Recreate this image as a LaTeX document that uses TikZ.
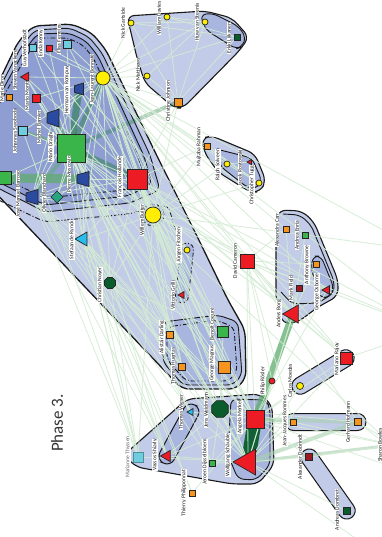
\documentclass[tikz,border=0pt]{standalone}
\usepackage{fontspec}
\setmainfont{Carlito}
\usetikzlibrary{shapes.geometric}
\pgfdeclarelayer{bg}
\pgfdeclarelayer{hulls}
\pgfdeclarelayer{edges}
\pgfsetlayers{bg,hulls,edges,main}
\definecolor{cRed}{RGB}{237,28,36}
\definecolor{cGreen}{RGB}{57,181,74}
\definecolor{cDGreen}{RGB}{10,92,44}
\definecolor{cBlue}{RGB}{42,75,160}
\definecolor{cCyan}{RGB}{110,205,222}
\definecolor{cCyanB}{RGB}{40,190,236}
\definecolor{cTeal}{RGB}{38,165,130}
\definecolor{cYellow}{RGB}{255,238,0}
\definecolor{cOrange}{RGB}{247,148,29}
\definecolor{cDRed}{RGB}{158,24,36}
\definecolor{hLight}{RGB}{194,203,231}
\definecolor{hMid}{RGB}{168,181,222}
\definecolor{hDark}{RGB}{142,158,210}
\definecolor{eGreen}{RGB}{212,236,212}
\definecolor{bGreen}{RGB}{96,172,112}
\definecolor{bDark}{RGB}{34,124,64}
\tikzset{
  nd/.style={draw=black!85, line width=0.7pt, inner sep=0pt, outer sep=0pt},
  sq/.style={nd, rectangle, minimum size=#1},
  cir/.style={nd, circle, minimum size=#1},
  tri/.style={nd, regular polygon, regular polygon sides=3, minimum size=#1, shape border rotate=90},
  oct/.style={nd, regular polygon, regular polygon sides=8, minimum size=#1},
  lab/.style={rotate=90, fill=white, inner sep=0.5pt, font=\fontsize{5.6}{6}\selectfont, text=black!90},
  hull/.style={draw=black!90, line width=1.1pt, rounded corners=7pt},
  ihull/.style={draw=black!90, line width=0.9pt, rounded corners=6pt},
  dhull/.style={draw=black!90, line width=0.9pt, rounded corners=6pt, dash pattern=on 5pt off 2pt on 1pt off 2pt},
  capsule/.style={draw=black!90, line width=1pt, fill=hLight, inner sep=0pt},
  edge/.style={draw=eGreen, line width=0.8pt, opacity=0.9},
  band/.style={line cap=round, opacity=0.75},
}
% name, x, y, vertical size (long side), horizontal size
\newcommand{\trapnode}[5]{%
  \draw[draw=black!85, line width=0.7pt, fill=cBlue] ({#2-#5/2},{#3-#4*0.27}) -- ({#2+#5/2},{#3-#4/2}) -- ({#2+#5/2},{#3+#4/2}) -- ({#2-#5/2},{#3+#4*0.27}) -- cycle;
  \node[inner sep=0pt, minimum size=#4pt] (#1) at (#2,#3) {};}
\begin{document}
\begin{tikzpicture}[x=1pt,y=-1pt]
\useasboundingbox (0,0) rectangle (382,537);
\begin{pgfonlayer}{bg}
\fill[white] (0,0) rectangle (382,537);
\end{pgfonlayer}

% ---------------- nodes ----------------
\node[sq=8, fill=cCyan] (elsa) at (67,44) {};
\node[sq=6, fill=cRed] (enda) at (49,48) {};
\node[sq=7, fill=cCyan] (guy) at (33,48) {};
\node[tri=11, fill=cRed] (steven) at (26,77) {};
\node[sq=6, fill=cOrange] (marie) at (9,97) {};
\node[sq=8, fill=cRed] (monti) at (36,98) {};
\node[sq=9, fill=cCyan] (johannes) at (23,131) {};
\trapnode{barnier}{53}{118}{18}{12}
\trapnode{herman}{79}{89}{12}{9}
\node[cir=14, fill=cYellow] (bonnafe) at (103,78) {};
\node[sq=28, fill=cGreen] (draghi) at (71,148) {};
\trapnode{moscovici}{83}{179}{15}{12}
\node[nd, diamond, minimum size=12, fill=cTeal] (blanchard) at (57,197) {};
\node[sq=20, fill=cRed] (hollande) at (137,179) {};
\node[cir=16, fill=cYellow] (buiter) at (153,215) {};
\trapnode{barroso}{32}{197}{15}{12}
\node[sq=13, fill=cGreen] (greenL) at (5,178) {};
\node[tri=16, fill=cCyanB] (rynck) at (83,239) {};
\node[oct=12, fill=cDGreen] (noyer) at (110,283) {};
\node[cir=6, fill=cYellow] (fitschen) at (187,250) {};
\node[tri=8, fill=cRed] (grilli) at (182,295) {};
\node[sq=14, fill=cRed] (cameron) at (247,261) {};
\node[sq=11, fill=cGreen] (coeure) at (223,332) {};
\node[sq=12, fill=cOrange] (magnus) at (224,367) {};
\node[sq=7, fill=cOrange] (darling) at (170,335) {};
\node[sq=7, fill=cOrange] (huertas) at (182,367) {};
\node[tri=8, fill=cCyanB] (wieser) at (191,412) {};
\node[oct=18, fill=cDGreen] (weidmann) at (220,409) {};
\node[sq=18, fill=cRed] (merkel) at (255,419) {};
\node[tri=30, fill=cRed] (schauble) at (248,462) {};
\node[sq=6, fill=cGreen] (dijssel) at (212,463) {};
\node[tri=13, fill=cRed] (vassos) at (167,456) {};
\node[sq=10, fill=cCyan, draw=cCyan!70!black] (thyssen) at (138,457) {};
\node[sq=6, fill=cOrange] (thierry) at (192,493) {};
\node[cir=6, fill=cRed] (rosler) at (272,381) {};
\node[cir=7, fill=cYellow] (carlo) at (300,386) {};
\node[sq=12, fill=cRed] (rajoy) at (346,358) {};
\node[sq=6, fill=cOrange] (rommes) at (293,422) {};
\node[sq=7, fill=cOrange] (hofmann) at (358,422) {};
\node[sq=7, fill=cOrange] (bowles) at (394,445) {};
\node[sq=7, fill=cDRed] (dobrindt) at (309,457) {};
\node[sq=7, fill=cDGreen] (dombret) at (347,511) {};
\node[sq=6, fill=cOrange] (carr) at (286,229) {};
\node[sq=6, fill=cGreen] (enria) at (305,235) {};
\node[sq=6, fill=cOrange] (browne) at (316,264) {};
\node[tri=10, fill=cRed] (osborne) at (327,290) {};
\node[sq=6, fill=cDRed] (field) at (299,288) {};
\node[tri=21, fill=cRed] (borg) at (293,314) {};
\node[cir=6, fill=cYellow] (gartside) at (131,23) {};
\node[cir=6, fill=cYellow] (davies) at (167,17) {};
\node[cir=6, fill=cYellow] (huw) at (205,22) {};
\node[sq=6, fill=cDGreen] (liikanen) at (237,37) {};
\node[cir=6, fill=cYellow] (matthews) at (147,76) {};
\node[sq=8, fill=cOrange] (johnson) at (178,102) {};
\node[sq=6, fill=cOrange] (rahman) at (207,146) {};
\node[cir=6, fill=cYellow] (solveen) at (227,164) {};
\node[tri=6, fill=cRed] (rostowski) at (250,162) {};
\node[cir=6, fill=cYellow] (tugg) at (259,183) {};
\coordinate (offA) at (430,330);
\coordinate (offB) at (430,480);
\coordinate (offC) at (400,570);
\coordinate (offD) at (420,250);

% ---------------- hulls ----------------
\begin{pgfonlayer}{hulls}
\path[hull, fill=hLight, line width=1.3pt] (-10,100) -- (18,42) -- (33,26) -- (72,24) -- (92,33) -- (106,50) -- (155,152) -- (195,232) -- (228,300) -- (245,330) -- (246,378) -- (236,389) -- (182,389) -- (-10,187) -- cycle;
\path[ihull, fill=hMid] (-10,106) -- (21,47) -- (35,30) -- (70,28) -- (89,37) -- (102,53) -- (150,155) -- (160,190) -- (130,203) -- (45,212) -- (-10,184) -- cycle;
\path[ihull, fill=hDark] (-10,113) -- (24,51) -- (37,34) -- (69,33) -- (86,41) -- (98,56) -- (144,156) -- (152,184) -- (128,196) -- (45,205) -- (-10,178) -- cycle;
\path[dhull] (-10,120) -- (27,55) -- (39,38) -- (68,38) -- (83,45) -- (94,59) -- (138,156) -- (145,179) -- (125,190) -- (45,198) -- (-10,172) -- cycle;
\path[dhull] (-10,196) -- (45,222) -- (128,214) -- (168,205) -- (176,232);
\path[ihull, fill=hMid] (163,322) -- (218,315) -- (238,322) -- (242,375) -- (233,385) -- (183,385) -- (163,362) -- cycle;
\path[dhull] (167,327) -- (216,320) -- (234,327) -- (237,372) -- (229,381) -- (186,381) -- (167,360) -- cycle;
\node[draw=black!90, line width=0.8pt, dash pattern=on 4pt off 2pt on 1pt off 2pt, fill=hMid, circle, minimum size=22pt, inner sep=0pt] (buiterring) at (153,215) {};
\node[draw=black!90, line width=0.8pt, dash pattern=on 4pt off 2pt on 1pt off 2pt, fill=hMid, rounded corners=6.5pt, minimum width=60pt, minimum height=13pt, inner sep=0pt, rotate=83.8] (capFG) at (184.5,273) {};
\path[hull, fill=hLight] (127,16) -- (205,11) -- (232,18) -- (249,37) -- (240,50) -- (183,108) -- (174,108) -- (165,100) -- (145,83) -- (137,58) -- cycle;
\path[ihull, fill=hMid] (200,15) -- (212,13) -- (238,26) -- (246,37) -- (242,47) -- (236,49) -- (206,30) -- cycle;
\path[hull, fill=hLight] (202,138) -- (212,136) -- (255,154) -- (266,181) -- (260,192) -- (250,192) -- (218,172) -- (204,152) -- cycle;
\path[ihull, fill=hMid] (216,149) -- (252,158) -- (262,181) -- (256,189) -- (248,188) -- (220,166) -- cycle;
\path[hull, fill=hLight] (279,210) -- (302,211) -- (314,222) -- (338,280) -- (338,296) -- (318,307) -- (298,322) -- (283,324) -- (276,300) -- (276,222) -- cycle;
\path[ihull] (283,214) -- (300,215) -- (311,225) -- (334,281) -- (334,293) -- (318,303) -- (292,304) -- (281,292);
\path[ihull, fill=hMid] (313,256) -- (321,256) -- (334,288) -- (330,297) -- (320,298) -- (311,268) -- cycle;
\path[hull, fill=hLight] (124,455) -- (187,399) -- (260,394) -- (272,405) -- (274,465) -- (258,484) -- (232,484) -- (136,467) -- cycle;
\path[ihull, fill=hMid] (231,399) -- (266,400) -- (270,408) -- (270,465) -- (256,480) -- (238,479) -- (228,455) -- cycle;
\node[capsule, fill=hMid, rounded corners=8pt, minimum width=66pt, minimum height=16pt, rotate=61.4] (capWV) at (179,434) {};
\node[capsule, rounded corners=8.5pt, minimum width=70pt, minimum height=17pt, rotate=31.3] (capRC) at (323,372) {};
\node[capsule, rounded corners=8.5pt, minimum width=81pt, minimum height=17pt] (capRH) at (325.5,422) {};
\node[capsule, rounded corners=8.5pt, minimum width=82pt, minimum height=17pt, rotate=-54.9] (capDD) at (328,484) {};
\end{pgfonlayer}

% ---------------- edges ----------------
\begin{pgfonlayer}{edges}
\draw[band, bGreen, line width=9pt] (greenL.center) -- (moscovici.center);
\draw[band, bDark, line width=7pt, opacity=.55] (draghi.center) -- (herman.center);
\draw[band, bDark, line width=5pt, opacity=.45] (draghi.center) -- (bonnafe.center);
\draw[band, bGreen, line width=4pt, opacity=.6] (draghi.center) -- (barnier.center);
\draw[band, bDark, line width=6pt, opacity=.45] (draghi.center) -- (hollande.center);
\draw[band, bGreen, line width=4pt, opacity=.5] (draghi.center) -- (barroso.center);
\draw[band, bGreen, line width=3pt, opacity=.5] (draghi.center) -- (johannes.center);
\draw[band, bDark, line width=4pt, opacity=.35] (draghi.center) -- (johnson.center);
\draw[band, bGreen, line width=7pt] (borg.center) -- (merkel.center);
\draw[band, cDGreen, line width=14pt, opacity=.95, line cap=butt] (merkel.center) -- (schauble.center);
\draw[band, bGreen!55!white, line width=4pt, opacity=.6] (merkel.center) -- (hofmann.center);
\draw[band, bGreen!55!white, line width=4pt, opacity=.6] (schauble.center) -- (hofmann.center);
\draw[band, bGreen!55!white, line width=3pt, opacity=.6] (schauble.center) -- (bowles.center);
\draw[band, bGreen!55!white, line width=3pt, opacity=.5] (merkel.center) -- (rommes.center);
\foreach \a/\b in {bonnafe/elsa, bonnafe/enda, bonnafe/guy, bonnafe/steven, bonnafe/monti, bonnafe/herman, bonnafe/barnier,
  bonnafe/moscovici, bonnafe/hollande, bonnafe/buiter, bonnafe/rynck, bonnafe/noyer, bonnafe/blanchard, bonnafe/barroso,
  bonnafe/johannes, bonnafe/matthews, bonnafe/johnson, bonnafe/gartside, bonnafe/davies, bonnafe/huw, bonnafe/liikanen,
  bonnafe/cameron, bonnafe/fitschen, bonnafe/grilli, bonnafe/darling, bonnafe/huertas, bonnafe/coeure, bonnafe/magnus,
  bonnafe/rahman, bonnafe/solveen, bonnafe/borg, bonnafe/merkel, bonnafe/schauble, bonnafe/weidmann, bonnafe/rajoy,
  bonnafe/carr, bonnafe/osborne, bonnafe/tugg, bonnafe/offD, bonnafe/offA,
  draghi/monti, draghi/buiter, draghi/blanchard, draghi/rynck, draghi/noyer, draghi/greenL, draghi/weidmann, draghi/merkel,
  draghi/schauble, draghi/coeure, draghi/magnus, draghi/darling, draghi/huertas, draghi/steven, draghi/elsa, draghi/guy,
  draghi/enda, draghi/marie, draghi/thyssen, draghi/vassos, draghi/wieser, draghi/dijssel, draghi/cameron, draghi/borg, draghi/offB,
  hollande/merkel, hollande/cameron, hollande/buiter, hollande/moscovici, hollande/barroso, hollande/rynck, hollande/noyer,
  hollande/schauble, hollande/weidmann, hollande/coeure, hollande/magnus, hollande/grilli, hollande/fitschen, hollande/borg,
  hollande/osborne, hollande/rajoy, hollande/darling, hollande/elsa, hollande/guy, hollande/steven, hollande/johannes,
  hollande/johnson, hollande/rahman, hollande/offA,
  buiter/rynck, buiter/noyer, buiter/moscovici, buiter/barroso, buiter/barnier, buiter/herman, buiter/fitschen, buiter/grilli,
  buiter/darling, buiter/huertas, buiter/coeure, buiter/magnus, buiter/cameron, buiter/merkel, buiter/solveen, buiter/tugg,
  buiter/rahman, buiter/thyssen, buiter/johnson, buiter/offA, buiter/offD,
  barroso/moscovici, barroso/blanchard, barroso/rynck, barroso/noyer, barroso/merkel, barroso/schauble, barroso/thyssen,
  barroso/vassos, barroso/wieser, barroso/dijssel, barroso/herman, barroso/barnier,
  moscovici/rynck, moscovici/noyer, moscovici/merkel, moscovici/schauble, moscovici/weidmann, moscovici/blanchard,
  moscovici/barnier, moscovici/monti, moscovici/steven,
  rynck/noyer, rynck/merkel, rynck/schauble, rynck/darling, rynck/huertas, rynck/thyssen, rynck/vassos, rynck/wieser, rynck/thierry,
  noyer/weidmann, noyer/merkel, noyer/coeure, noyer/huertas, noyer/darling, noyer/thyssen, noyer/thierry,
  barnier/thyssen, johannes/thyssen, blanchard/vassos, herman/merkel, herman/cameron,
  cameron/merkel, cameron/schauble, cameron/borg, cameron/osborne, cameron/browne, cameron/field, cameron/carr, cameron/rajoy,
  cameron/rosler, cameron/hofmann, cameron/rommes, cameron/offA,
  merkel/weidmann, merkel/dijssel, merkel/vassos, merkel/wieser, merkel/osborne, merkel/rajoy, merkel/bowles,
  merkel/dobrindt, merkel/rosler, merkel/carlo, merkel/thierry, merkel/offB,
  schauble/weidmann, schauble/dijssel, schauble/vassos, schauble/thyssen, schauble/wieser, schauble/rommes, schauble/dobrindt,
  schauble/dombret, schauble/carlo, schauble/rosler, schauble/rajoy, schauble/borg, schauble/offC,
  weidmann/dijssel, weidmann/vassos, weidmann/coeure, weidmann/magnus, weidmann/rommes, weidmann/hofmann,
  borg/osborne, borg/field, borg/carr, borg/enria, borg/browne, borg/rajoy, borg/rosler,
  rommes/bowles, hofmann/bowles, dobrindt/bowles, rajoy/offA, hofmann/offB,
  johnson/gartside, johnson/davies, johnson/huw, johnson/liikanen, johnson/matthews,
  gartside/huw, gartside/liikanen, davies/liikanen, davies/huw, matthews/huw,
  solveen/rostowski, solveen/tugg, rahman/tugg}
  \draw[edge] (\a) -- (\b);
\end{pgfonlayer}

% ---------------- labels ----------------
\node[lab] (l-elsa) at (59,39) {Elisa Ferreira};
\node[lab] (l-enda) at (41,43) {Enda Kenny};
\node[lab] (l-guy) at (25,48) {Guy Verhofstadt};
\node[lab] (l-steven) at (15,70) {Steven Vanackere};
\node[lab] (l-marie) at (2,88) {Marie Diron};
\node[lab] (l-monti) at (27,96) {Mario Monti};
\node[lab] (l-johannes) at (15,131) {Johannes Swoboda};
\node[lab] (l-barnier) at (39,127) {Michel Barnier};
\node[lab] (l-herman) at (67,90) {Herman van Rompuy};
\node[lab] (l-bonnafe) at (92,79) {Jean-Laurent Bonnafé};
\node[lab] (l-draghi) at (51,147) {Mario Draghi};
\node[lab] (l-moscovici) at (69,174) {Pierre Moscovici};
\node[lab] (l-blanchard) at (44,193) {Olivier Blanchard};
\node[lab] (l-hollande) at (120,177) {François Hollande};
\node[lab] (l-buiter) at (142,220) {Willem Buiter};
\node[lab] (l-barroso) at (18,194) {José Manuel Barroso};
\node[lab] (l-rynck) at (72,240) {Stefaan de Rynck};
\node[lab] (l-noyer) at (100,285) {Christian Noyer};
\node[lab] (l-fitschen) at (179,245) {Jürgen Fitschen};
\node[lab] (l-grilli) at (173,295) {Vittorio Grilli};
\node[lab] (l-cameron) at (235,261) {David Cameron};
\node[lab] (l-coeure) at (212,324) {Benoît Coeuré};
\node[lab] (l-magnus) at (212,363) {George Magnus};
\node[lab] (l-darling) at (162,337) {Alistair Darling};
\node[lab] (l-huertas) at (173,366) {Thomas Huertas};
\node[lab] (l-wieser) at (181,412) {Thomas Wieser};
\node[lab] (l-weidmann) at (206,410) {Jens Weidmann};
\node[lab] (l-merkel) at (240,417) {Angela Merkel};
\node[lab] (l-schauble) at (228,455) {Wolfgang Schäuble};
\node[lab] (l-dijssel) at (205,462) {Jeroen Dijsselbloem};
\node[lab] (l-vassos) at (155,455) {Vassos Shiarly};
\node[lab, text=black!60] (l-thyssen) at (128,457) {Marianne Thyssen};
\node[lab] (l-thierry) at (184,493) {Thierry Philipponnat};
\node[lab] (l-rosler) at (263,381) {Philip Rösler};
\node[lab] (l-carlo) at (290,381) {Carlos Moedas};
\node[lab] (l-rajoy) at (337,359) {Mariano Rajoy};
\node[lab] (l-rommes) at (285,421) {Jean-Jacques Rommes};
\node[lab] (l-hofmann) at (348,422) {Gerhard Hofmann};
\node[lab] (l-bowles) at (380,445) {Sharon Bowles};
\node[lab] (l-dobrindt) at (300,457) {Alexander Dobrindt};
\node[lab] (l-dombret) at (337,510) {Andreas Dombret};
\node[lab] (l-carr) at (277,230) {Alexandra Carr};
\node[lab] (l-enria) at (297,235) {Andrea Enria};
\node[lab] (l-browne) at (307,265) {Anthony Browne};
\node[lab] (l-osborne) at (317,292) {George Osborne};
\node[lab] (l-field) at (291,288) {Mark Field};
\node[lab] (l-borg) at (279,314) {Anders Borg};
\node[lab] (l-gartside) at (123,23) {Nick Gartside};
\node[lab] (l-davies) at (159,18) {William Davies};
\node[lab] (l-huw) at (197,22) {Huw van Steenis};
\node[lab] (l-liikanen) at (229,38) {Erkki Liikanen};
\node[lab] (l-matthews) at (138,75) {Nick Matthews};
\node[lab] (l-johnson) at (168,101) {Christine Johnson};
\node[lab] (l-rahman) at (199,147) {Mujtaba Rahman};
\node[lab] (l-solveen) at (218,165) {Ralph Solveen};
\node[lab] (l-rostowski) at (240,168) {Jacek Rostowski};
\node[lab] (l-tugg) at (252,185) {Christopher Tugg};

\node[rotate=90, font=\fontsize{17}{17}\selectfont, text=black!80, inner sep=0pt] (title) at (57,423) {Phase 3.};
\end{tikzpicture}
\end{document}
